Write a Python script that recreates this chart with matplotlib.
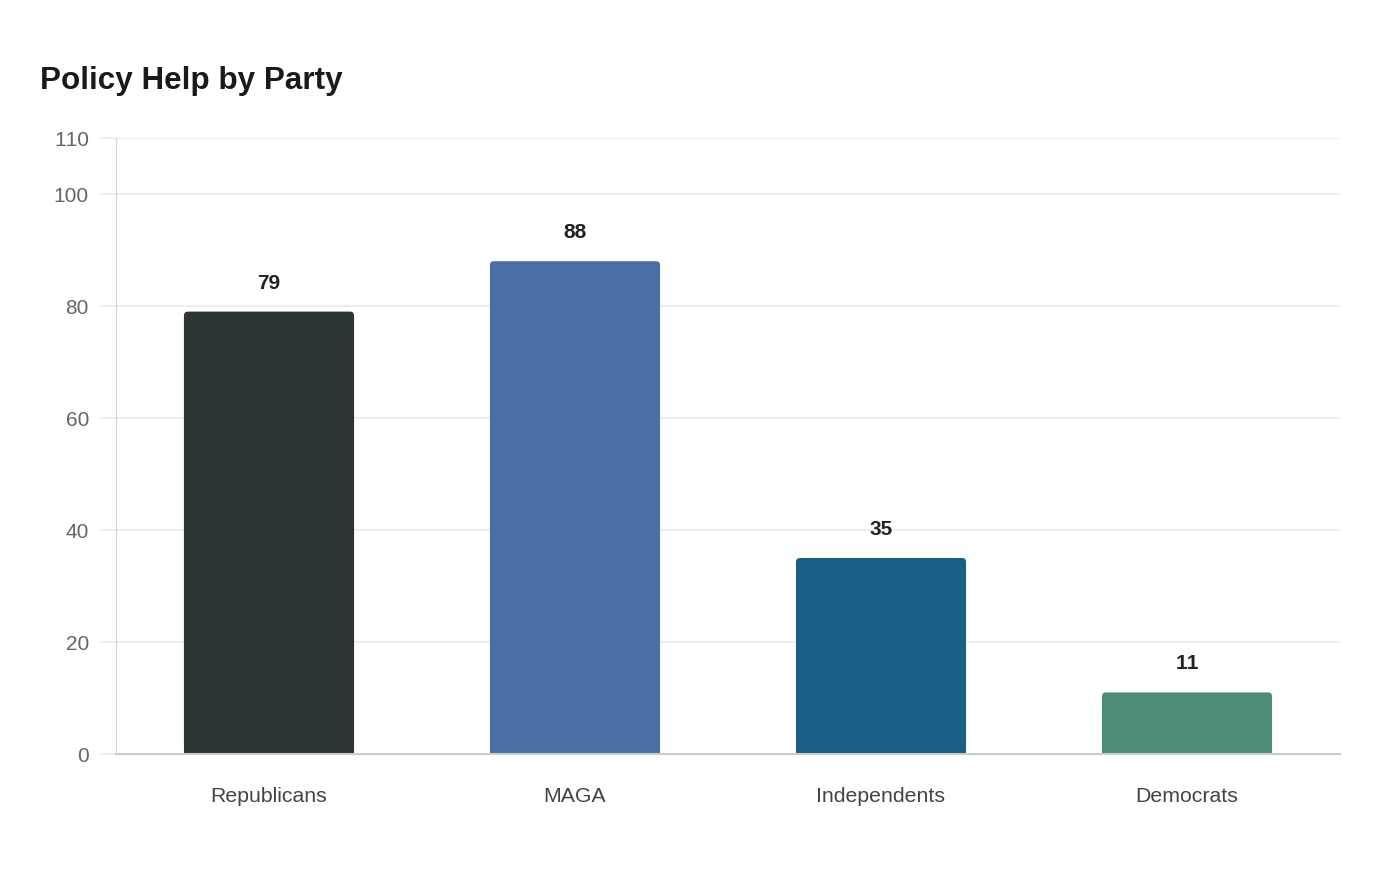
import matplotlib
matplotlib.use("Agg")
import matplotlib.pyplot as plt
from matplotlib.patches import FancyBboxPatch, Rectangle

categories = ["Republicans", "MAGA", "Independents", "Democrats"]
values = [79, 88, 35, 11]
colors = ["#2d3436", "#4a6fa5", "#186085", "#4e8c7a"]
yticks = [0, 20, 40, 60, 80, 100, 110]
title = "Policy Help by Party"

plt.rcParams['font.family'] = ['Liberation Sans', 'DejaVu Sans']
plt.rcParams['text.kerning_factor'] = 6

W, H = 1400, 880
fig = plt.figure(figsize=(W / 100, H / 100), dpi=100)
ax_l, ax_r, ax_t, ax_b = 116, 1340, 138, 754
ax = fig.add_axes([ax_l / W, 1 - ax_b / H, (ax_r - ax_l) / W, (ax_b - ax_t) / H])

ax.set_xlim(-0.5, len(categories) - 0.5)
ax.set_ylim(0, 110)

bar_w = 0.556
bars = ax.bar(range(len(categories)), values, width=bar_w, color=colors, zorder=3)

# rounded top corners
px_per_x = (ax_r - ax_l) / len(categories)
px_per_y = (ax_b - ax_t) / 110.0
r_px = 4.0
rx = r_px / px_per_x
ry = r_px / px_per_y
for b, c in zip(bars, colors):
    x0, w, h = b.get_x(), b.get_width(), b.get_height()
    b.set_visible(False)
    p = FancyBboxPatch((x0, 0), w, h, boxstyle=f"round,pad=0,rounding_size={rx}",
                       mutation_aspect=ry / rx, facecolor=c, edgecolor="none", zorder=3)
    ax.add_patch(p)
    ax.add_patch(Rectangle((x0, 0), w, h - ry * 1.5, facecolor=c, edgecolor="none", zorder=3))
    ax.annotate(f"{int(h)}", (x0 + w / 2, h), xytext=(0, 20.5), textcoords="offset points",
                ha="center", va="center", fontsize=15, fontweight="bold", color="#222222")

ax.set_yticks(yticks)
ax.set_xticks(range(len(categories)))
ax.set_xticklabels(categories)
ax.grid(axis="y", color="#ebebeb", linewidth=1.2, zorder=0)
ax.tick_params(axis="y", length=11.5, width=1.2, color="#ebebeb", pad=8,
               labelsize=15, labelcolor="#666666")
ax.tick_params(axis="x", length=0, pad=23.5, labelsize=15.3, labelcolor="#444444")

for s in ["top", "right"]:
    ax.spines[s].set_visible(False)
ax.spines["left"].set_color("#d8d8d8")
ax.spines["left"].set_linewidth(0.8)
ax.spines["left"].set_linestyle((0, (1, 1)))
ax.spines["bottom"].set_color("#cccccc")
ax.spines["bottom"].set_linewidth(1.5)
ax.spines["bottom"].set_zorder(4)

fig.text(40 / W, 1 - 89 / H, title, fontsize=22.6, fontweight="bold", color="#1a1a1a",
         ha="left", va="baseline")

fig.savefig("out.png", dpi=100, facecolor="white")
